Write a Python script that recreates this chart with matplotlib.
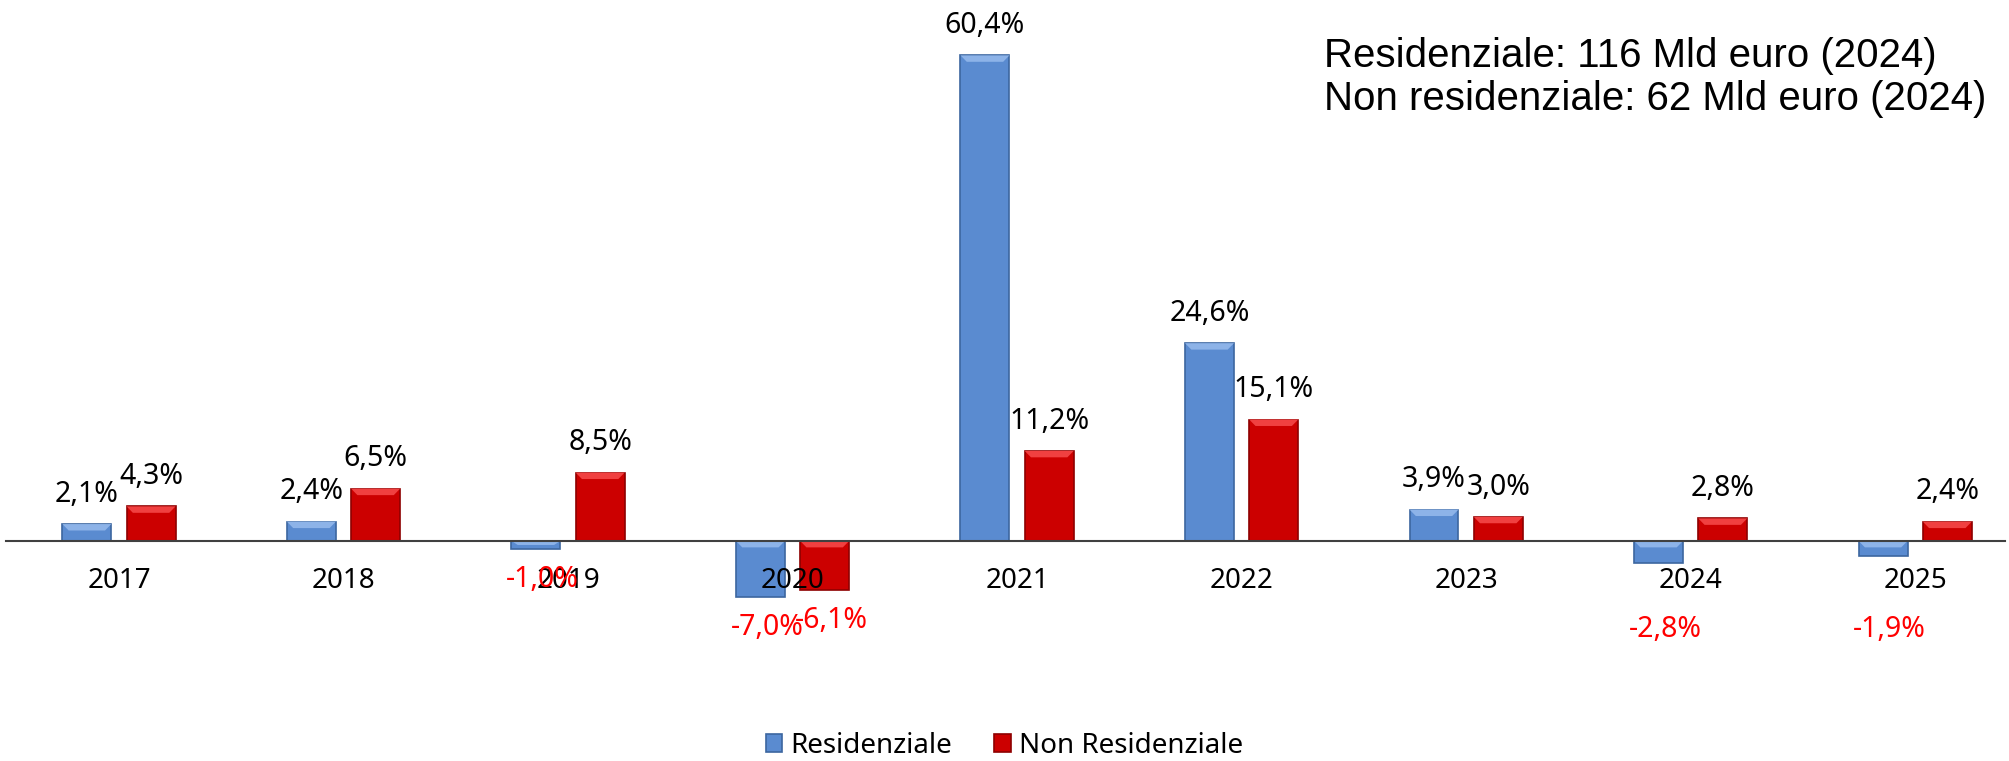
import numpy as np
import matplotlib
matplotlib.use("Agg")
import matplotlib.pyplot as plt
from matplotlib.patches import Polygon

years = ["2017", "2018", "2019", "2020", "2021", "2022", "2023", "2024", "2025"]
residenziale = [2.1, 2.4, -1.0, -7.0, 60.4, 24.6, 3.9, -2.8, -1.9]
non_residenziale = [4.3, 6.5, 8.5, -6.1, 11.2, 15.1, 3.0, 2.8, 2.4]
note_lines = ["Residenziale: 116 Mld euro (2024)", "Non residenziale: 62 Mld euro (2024)"]

plt.rcParams["font.family"] = ["Noto Sans", "DejaVu Sans"]

fig = plt.figure(figsize=(20.09, 7.61), dpi=100)
ax = fig.add_axes([0.003, 0.1064, 0.995, 0.880])
ax.set_axisbelow(False)

x = np.arange(len(years))
w = 0.218
off = 0.143
blue, blue_edge, blue_light = "#5A8BD0", "#3C669F", "#8DB3E8"
red, red_edge, red_light = "#CC0000", "#8E0000", "#F04040"

b1 = ax.bar(x - off, residenziale, w, color=blue, edgecolor=blue_edge, linewidth=1.2,
            label="Residenziale", zorder=2)
b2 = ax.bar(x + off, non_residenziale, w, color=red, edgecolor=red_edge, linewidth=1.2,
            label="Non Residenziale", zorder=2)

# bevel look: lighter strip on top of each bar
bx, by = 0.028, 0.8
for bars, light in [(b1, blue_light), (b2, red_light)]:
    for r in bars:
        x0 = r.get_x()
        x1 = x0 + r.get_width()
        y0 = min(r.get_y(), r.get_y() + r.get_height())
        y1 = max(r.get_y(), r.get_y() + r.get_height())
        d = min(by, (y1 - y0) / 2)
        ax.add_patch(Polygon([(x0, y1), (x1, y1), (x1 - bx, y1 - d), (x0 + bx, y1 - d)],
                             closed=True, facecolor=light, edgecolor="none", zorder=2.1))


def fmt(v):
    return f"{v:.1f}%".replace(".", ",")


for xs, vals in [(x - off, residenziale), (x + off, non_residenziale)]:
    for xi, v in zip(xs, vals):
        if v >= 0:
            ax.text(xi, v + 3.7, fmt(v), ha="center", va="center", fontsize=20.5, color="black")
        else:
            y = v - 3.8
            if xi > 6:
                y = -11.0
            ax.text(xi + 0.03, y, fmt(v), ha="center", va="center", fontsize=20.5, color="#FF0000", zorder=3)

ax.set_xlim(-0.503, 8.40)
ax.set_ylim(-17.3, 66.0)
for s in ["top", "right", "left"]:
    ax.spines[s].set_visible(False)
ax.spines["bottom"].set_position(("data", 0))
ax.spines["bottom"].set_color("#404040")
ax.spines["bottom"].set_linewidth(1.5)
ax.set_yticks([])
ax.set_xticks(x)
ax.set_xticklabels(years, fontsize=20)
ax.tick_params(axis="x", length=0, pad=19)

ax.text(0.6595, 0.96, note_lines[0] + "\n" + note_lines[1], transform=ax.transAxes,
        fontsize=29, family="Liberation Sans", ha="left", va="top", linespacing=1.15)

fig.legend(loc="center", bbox_to_anchor=(0.5, 0.02), ncol=2, frameon=False, fontsize=20,
           handlelength=0.6, handleheight=0.6, handletextpad=0.3, columnspacing=1.5)

fig.savefig("out.png", dpi=100)
